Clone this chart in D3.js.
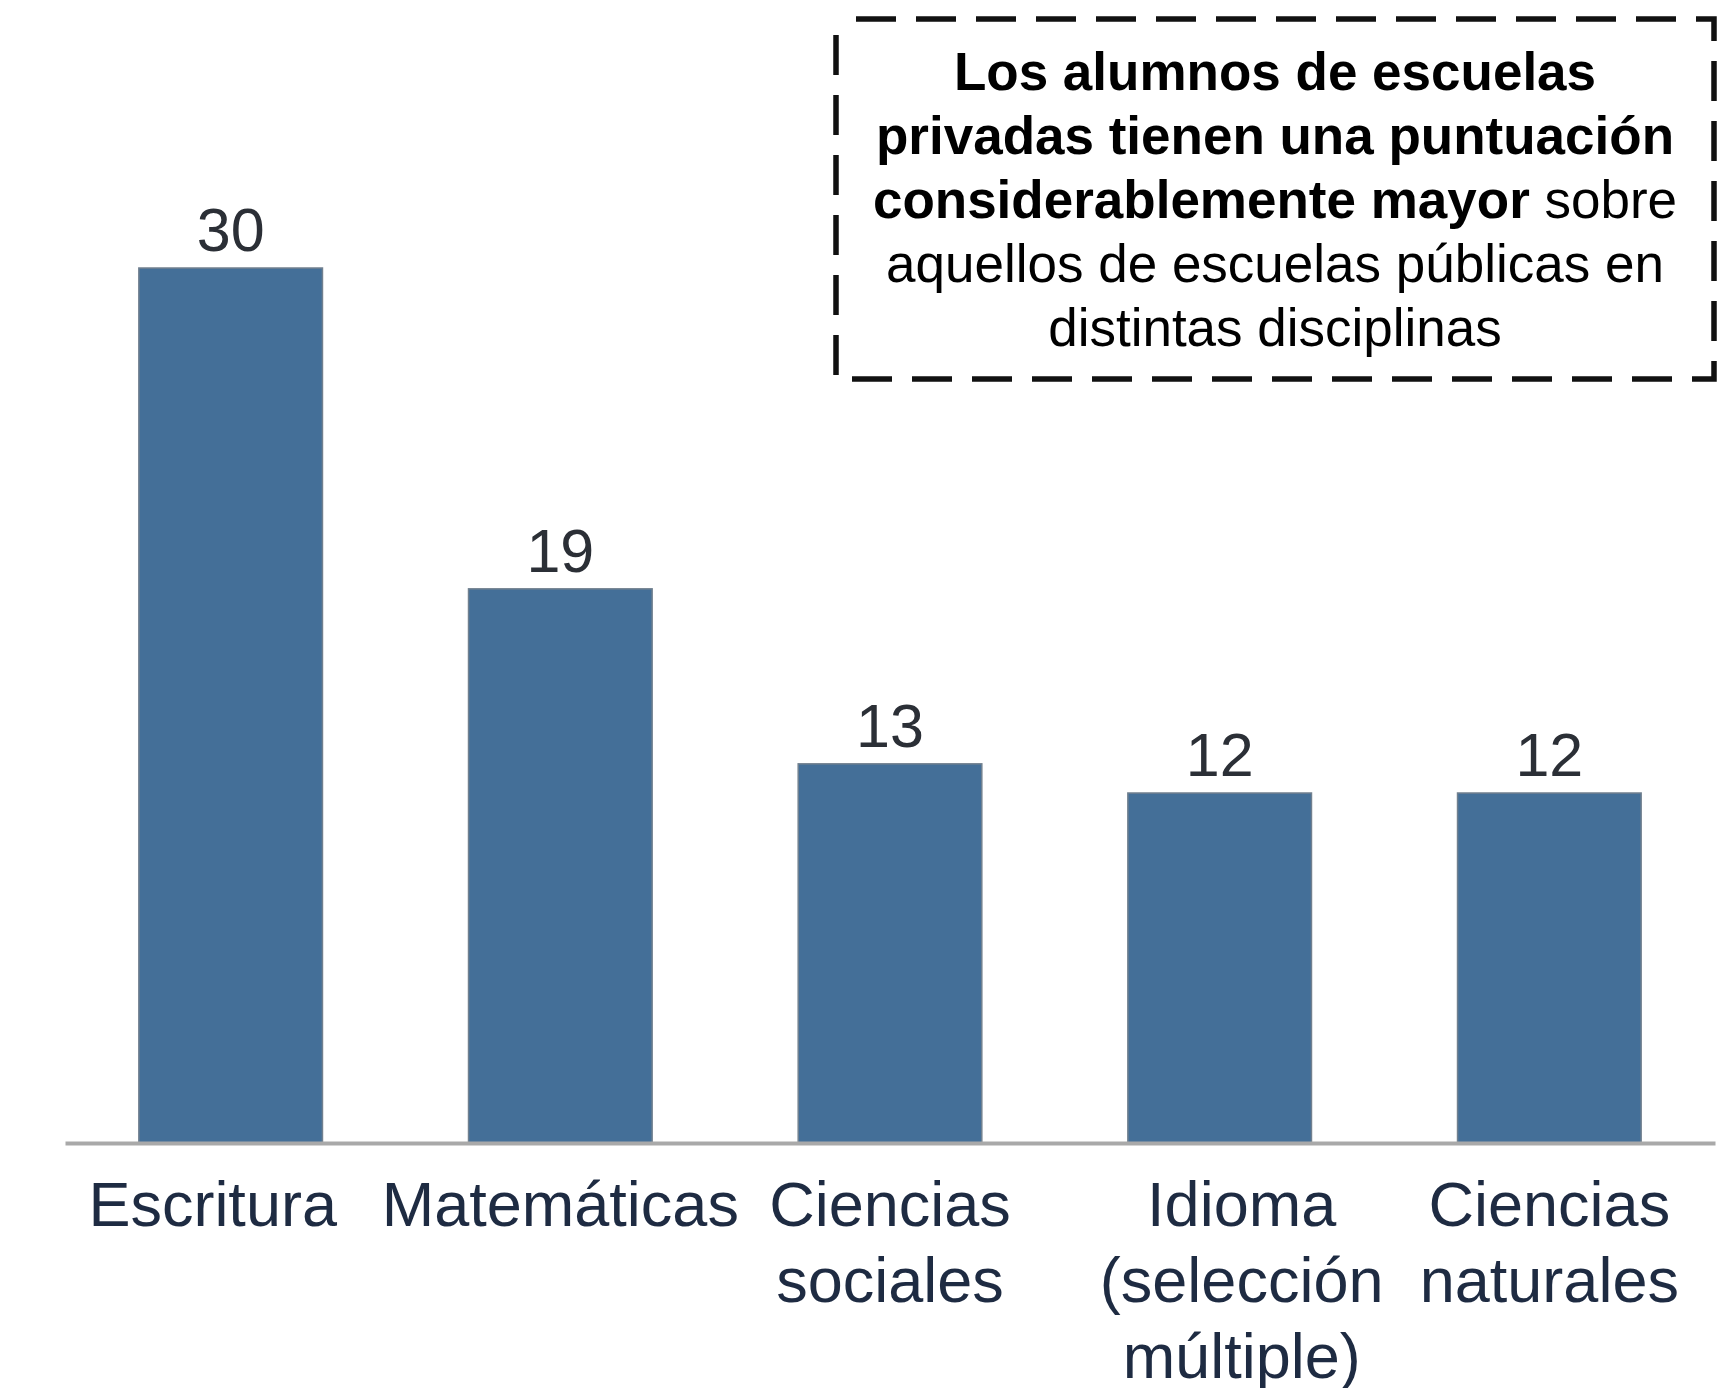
<!DOCTYPE html>
<html>
<head>
<meta charset="utf-8">
<script src="https://cdn.jsdelivr.net/npm/d3@7"></script>
<style>
  html, body { margin: 0; padding: 0; background: #ffffff; }
  svg { display: block; }
</style>
</head>
<body>
<svg id="chart" width="1727" height="1388"></svg>
<script>
// Score gap (points) between private and public school students, by subject
const categories = ["Escritura", "Matemáticas", "Ciencias sociales", "Idioma (selección múltiple)", "Ciencias naturales"];
const categoryLines = [
  ["Escritura"],
  ["Matemáticas"],
  ["Ciencias", "sociales"],
  ["Idioma", "(selección", "múltiple)"],
  ["Ciencias", "naturales"]
];
const values = [30, 19, 13, 12, 12];

// Callout text, one entry per line; each line is a list of [text, isBold] runs
const noteLines = [
  [["Los alumnos de escuelas", true]],
  [["privadas tienen una puntuación", true]],
  [["considerablemente mayor", true], [" sobre", false]],
  [["aquellos de escuelas públicas en", false]],
  [["distintas disciplinas", false]]
];

const W = 1727, H = 1388;
const baseY = 1143;
const axisLeft = 65, axisRight = 1715;
const font = "'Liberation Sans', Arial, Helvetica, sans-serif";

const svg = d3.select("#chart");

const x = d3.scaleBand()
  .domain(categories)
  .range([axisLeft, axisRight])
  .paddingInner(0.443)
  .paddingOuter(0.224);

const y = d3.scaleLinear()
  .domain([0, 30])
  .range([baseY, 268]);

// Bars
svg.append("g")
  .selectAll("rect")
  .data(values)
  .join("rect")
  .attr("x", (d, i) => x(categories[i]))
  .attr("y", d => y(d))
  .attr("width", x.bandwidth())
  .attr("height", d => y(0) - y(d))
  .attr("fill", "#446f98")
  .attr("stroke", "#71808f")
  .attr("stroke-width", 1.5);

// Baseline
const xAxis = d3.axisBottom(x).tickSize(0).tickFormat("");
const axisG = svg.append("g")
  .attr("transform", `translate(0,${baseY})`)
  .call(xAxis);
axisG.select(".domain")
  .attr("stroke", "#a9a9a9")
  .attr("stroke-width", 4);

// Value labels above bars
svg.append("g")
  .selectAll("text")
  .data(values)
  .join("text")
  .attr("x", (d, i) => x(categories[i]) + x.bandwidth() / 2)
  .attr("y", d => y(d) - 17)
  .attr("text-anchor", "middle")
  .attr("font-family", font)
  .attr("font-size", 61)
  .attr("fill", "#2b2f36")
  .text(d => d);

// Category labels under the baseline (small nudges keep long words clear of neighbours)
const labelNudge = { "Escritura": -18, "Idioma (selección múltiple)": 22 };
const lineH = 76;
const catG = svg.append("g");
categories.forEach((c, i) => {
  const cx = x(c) + x.bandwidth() / 2 + (labelNudge[c] || 0);
  const t = catG.append("text")
    .attr("text-anchor", "middle")
    .attr("font-family", font)
    .attr("font-size", 63)
    .attr("fill", "#1e2b42");
  categoryLines[i].forEach((ln, j) => {
    t.append("tspan")
      .attr("x", cx)
      .attr("y", 1226 + j * lineH)
      .text(ln);
  });
});

// Dashed callout box
const box = { x0: 836, y0: 19, x1: 1714, y1: 379 };
svg.append("rect")
  .attr("x", box.x0)
  .attr("y", box.y0)
  .attr("width", box.x1 - box.x0)
  .attr("height", box.y1 - box.y0)
  .attr("fill", "none")
  .attr("stroke", "#111111")
  .attr("stroke-width", 5.5)
  .attr("stroke-dasharray", "40 20")
  .attr("stroke-dashoffset", -20);

const noteG = svg.append("g");
const noteCx = (box.x0 + box.x1) / 2;
noteLines.forEach((runs, j) => {
  const t = noteG.append("text")
    .attr("x", noteCx)
    .attr("y", 90 + j * 64)
    .attr("text-anchor", "middle")
    .attr("font-family", font)
    .attr("font-size", 53)
    .attr("fill", "#000000");
  runs.forEach(([txt, bold]) => {
    t.append("tspan")
      .attr("font-weight", bold ? "bold" : "normal")
      .text(txt);
  });
});
</script>
</body>
</html>
